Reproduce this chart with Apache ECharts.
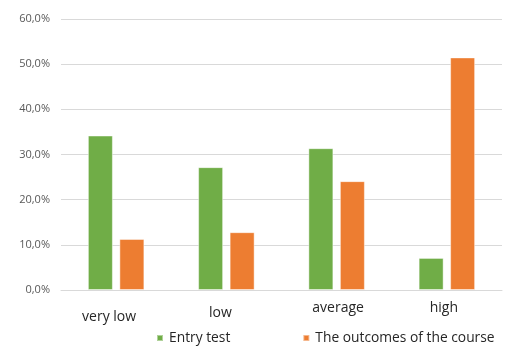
<!DOCTYPE html>
<html><head><meta charset="utf-8">
<script src="https://cdn.jsdelivr.net/npm/echarts@6/dist/echarts.min.js"></script>
<style>html,body{margin:0;padding:0;background:#fff}#c{width:506px;height:354px}</style>
</head><body><div id="c"></div>
<script>
var categories = ['very low', 'low', 'average', 'high'];
var entryTest = [34.2, 27.2, 31.4, 7.1];
var outcomes = [11.3, 12.8, 24.1, 51.5];
var seriesNames = ['Entry test', 'The outcomes of the course'];
var labelStyles = ['a', 'b', 'c', 'd'];

var chart = echarts.init(document.getElementById('c'), null, {renderer: 'canvas'});
chart.setOption({
  animation: false,
  textStyle: {fontFamily: 'Open Sans'},
  grid: {left: 61, right: 4, top: 19, bottom: 64},
  legend: {
    data: seriesNames,
    left: 151, top: 326,
    itemWidth: 6, itemHeight: 6, itemGap: 72,
    icon: 'rect',
    textStyle: {fontSize: 13.8, color: '#262626', fontFamily: 'Open Sans', padding: [0, 0, 0, 1]}
  },
  xAxis: {
    type: 'category', data: categories,
    axisLine: {lineStyle: {color: '#d9d9d9'}},
    axisTick: {show: false},
    axisLabel: {
      fontSize: 14, color: '#262626', margin: 11,
      formatter: function (v, i) { return '{' + labelStyles[i] + '|' + v + '}'; },
      rich: {
        a: {fontSize: 14, color: '#262626', padding: [9, 14, 0, 0]},
        b: {fontSize: 14, color: '#262626', padding: [5, 12, 0, 0]},
        c: {fontSize: 14, color: '#262626', padding: [0, 0, 0, 3]},
        d: {fontSize: 14, color: '#262626', padding: [0, 6, 0, 0]}
      }
    }
  },
  yAxis: {
    type: 'value', min: 0, max: 60, interval: 10,
    axisLine: {show: false}, axisTick: {show: false},
    splitLine: {lineStyle: {color: '#d9d9d9'}},
    axisLabel: {
      fontSize: 11, color: '#595959', margin: 11,
      formatter: function (v) { return v.toFixed(1).replace('.', ',') + '%'; }
    }
  },
  series: [
    {name: seriesNames[0], type: 'bar', data: entryTest, barWidth: 25, barGap: '26%',
     itemStyle: {color: '#70ad47', borderColor: 'rgba(255,255,255,0.45)', borderWidth: 1}},
    {name: seriesNames[1], type: 'bar', data: outcomes, barWidth: 25,
     itemStyle: {color: '#ed7d31', borderColor: 'rgba(255,255,255,0.45)', borderWidth: 1}}
  ]
});
</script></body></html>
